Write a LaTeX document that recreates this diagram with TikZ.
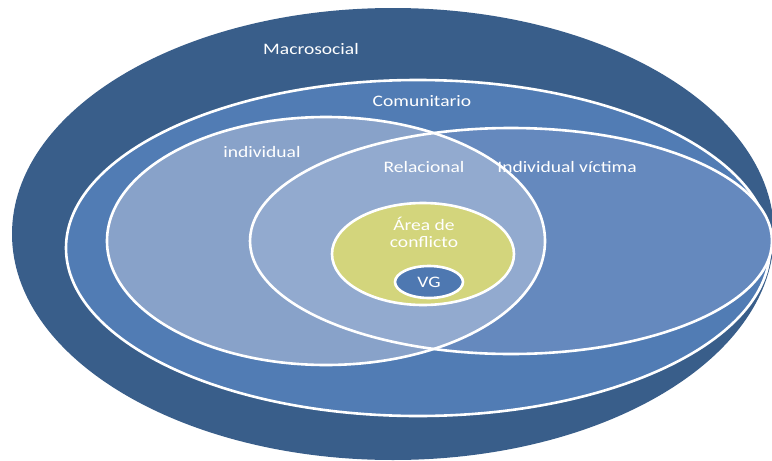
\documentclass[tikz,border=0pt]{standalone}
\usepackage{fontspec}
\setmainfont{Carlito}
\usepackage{graphicx}
\definecolor{macro}{HTML}{395E8A}
\definecolor{comun}{HTML}{517CB4}
\definecolor{indiv}{HTML}{88A2C9}
\definecolor{victim}{HTML}{6589BE}
\definecolor{relac}{HTML}{92AACF}
\definecolor{conflict}{HTML}{D3D57C}
\definecolor{vgcol}{HTML}{4E78B1}
\newcommand{\wide}[1]{\scalebox{1.22}[1]{#1}}
\tikzset{
  ring/.style={draw=white, line width=2.6pt},
  lbl/.style={text=white, inner sep=0pt, font=\fontsize{16}{18}\selectfont, align=center}
}
\begin{document}
\begin{tikzpicture}[x=1pt, y=-1pt]
\useasboundingbox (0,0) rectangle (772,461);
\clip (0,0) rectangle (772,461);
% outer level
\fill[macro] (393,234) ellipse [x radius=381pt, y radius=226pt];
% community level
\fill[comun, ring] (418,248) ellipse [x radius=352pt, y radius=168pt];
% the two individual ellipses and their overlap
\fill[victim] (511,241) ellipse [x radius=261pt, y radius=113pt];
\fill[indiv] (326,241) ellipse [x radius=219pt, y radius=124pt];
\begin{scope}
  \clip (511,241) ellipse [x radius=261pt, y radius=113pt];
  \fill[relac] (326,241) ellipse [x radius=219pt, y radius=124pt];
\end{scope}
\draw[ring] (511,241) ellipse [x radius=261pt, y radius=113pt];
\draw[ring] (326,241) ellipse [x radius=219pt, y radius=124pt];
% conflict area and core
\fill[conflict, ring] (423,254) ellipse [x radius=91pt, y radius=51pt];
\fill[vgcol, ring] (429,282) ellipse [x radius=34pt, y radius=16pt];
% labels
\node[lbl] (macro) at (311,49) {\wide{Macrosocial}};
\node[lbl] (comun) at (422,101) {\wide{Comunitario}};
\node[lbl] (indiv) at (262,152) {\wide{individual}};
\node[lbl] (relac) at (424,167) {\wide{Relacional}};
\node[lbl] (victim) at (567,167) {\wide{Individual víctima}};
\node[lbl] (area) at (424,232) {\wide{Área de}\\[-1pt]\wide{conflicto}};
\node[lbl] (vg) at (429,282) {\wide{VG}};
\end{tikzpicture}
\end{document}
